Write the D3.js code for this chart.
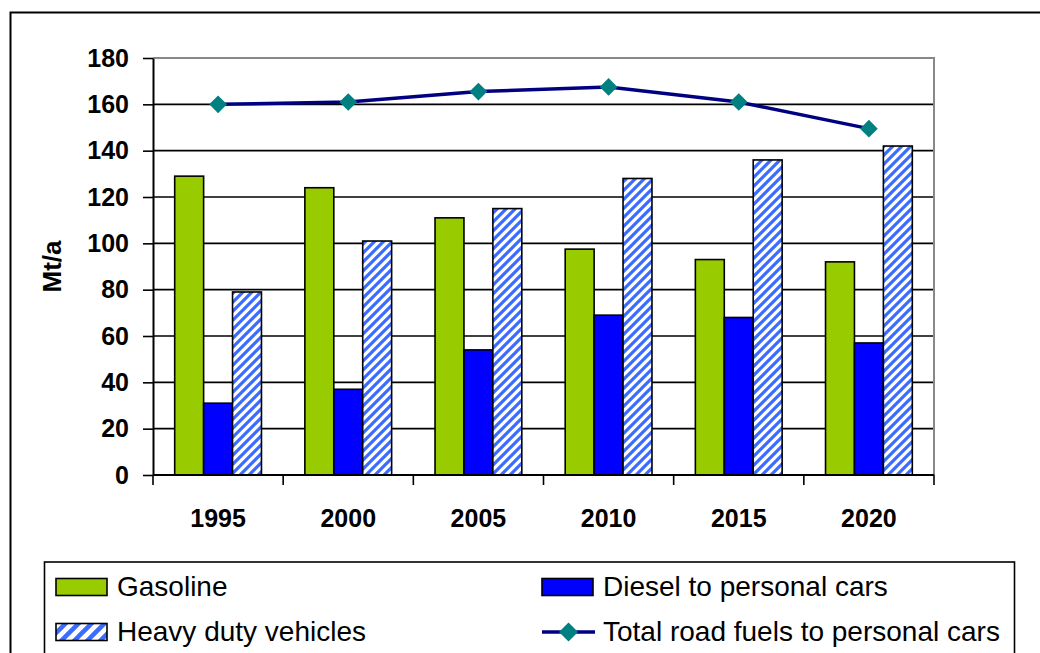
<!DOCTYPE html>
<html>
<head>
<meta charset="utf-8">
<script src="https://cdn.jsdelivr.net/npm/d3@7"></script>
<style>
  body { margin: 0; background: #fff; }
  text { font-family: "Liberation Sans", Arial, sans-serif; }
</style>
</head>
<body>
<div id="chart"></div>
<script>
// data
var years = ["1995", "2000", "2005", "2010", "2015", "2020"];
var gasoline = [129, 124, 111, 97.5, 93, 92];
var diesel = [31, 37, 54, 69, 68, 57];
var heavyDuty = [79, 101, 115, 128, 136, 142];
var totalRoad = [160, 161, 165.5, 167.5, 161, 149.5];
var yTicks = [0, 20, 40, 60, 80, 100, 120, 140, 160, 180];
var seriesNames = ["Gasoline", "Diesel to personal cars", "Heavy duty vehicles", "Total road fuels to personal cars"];

var W = 1040, H = 653;
var margin = {top: 58, right: 106, bottom: 178, left: 153},
    width = W - margin.left - margin.right,
    height = H - margin.top - margin.bottom;

var svg = d3.select("#chart")
  .append("svg")
    .attr("width", W)
    .attr("height", H);

// hatch for heavy duty vehicles
var defs = svg.append("defs");
function makeHatch(id, s, sw) {
  var pat = defs.append("pattern")
      .attr("id", id)
      .attr("patternUnits", "userSpaceOnUse")
      .attr("width", s)
      .attr("height", s);
  pat.append("rect").attr("width", s).attr("height", s).attr("fill", "#fff");
  pat.append("path")
      .attr("d", "M-2,2 L2,-2 M0," + s + " L" + s + ",0 M" + (s - 2) + "," + (s + 2) + " L" + (s + 2) + "," + (s - 2))
      .attr("stroke", "#3b6cff")
      .attr("stroke-width", sw);
}
makeHatch("hatch", 9, 3.2);
makeHatch("hatchLeg", 13, 4.5);

// outer chart frame
svg.append("rect")
    .attr("x", 10.5).attr("y", 12.5)
    .attr("width", W + 20).attr("height", H + 20)
    .attr("fill", "none")
    .attr("stroke", "#000")
    .attr("stroke-width", 2);

var g = svg.append("g")
    .attr("transform", "translate(" + margin.left + "," + margin.top + ")");

var x = d3.scaleBand()
    .domain(years)
    .range([0, width]);

var barW = x.bandwidth() / 4.5;
var x1 = d3.scaleBand()
    .domain([0, 1, 2])
    .range([0, barW * 3]);

var y = d3.scaleLinear()
    .domain([0, 180])
    .range([height, 0]);

// gridlines
g.append("g")
  .selectAll("line")
  .data(yTicks.slice(1, -1))
  .enter().append("line")
    .attr("x1", 0).attr("x2", width)
    .attr("y1", function(d) { return y(d); })
    .attr("y2", function(d) { return y(d); })
    .attr("stroke", "#000")
    .attr("stroke-width", 1.6);

// plot area border (grey)
g.append("path")
    .attr("d", "M0," + y(180) + "H" + width + "V" + height)
    .attr("fill", "none")
    .attr("stroke", "#888")
    .attr("stroke-width", 2);

// bars
var seriesVals = [gasoline, diesel, heavyDuty];
var fills = ["#99cc00", "#0000ff", "url(#hatch)"];
var legFills = ["#99cc00", "#0000ff", "url(#hatchLeg)"];
seriesVals.forEach(function(vals, si) {
  g.append("g")
    .selectAll("rect")
    .data(vals)
    .enter().append("rect")
      .attr("x", function(d, i) { return x(years[i]) + (x.bandwidth() - barW * 3) / 2 + x1(si); })
      .attr("y", function(d) { return y(d); })
      .attr("width", barW)
      .attr("height", function(d) { return height - y(d); })
      .attr("fill", fills[si])
      .attr("stroke", "#000")
      .attr("stroke-width", 1.6);
});

// axes
var yAxis = g.append("g")
    .call(d3.axisLeft(y).tickValues(yTicks).tickSize(10).tickPadding(14).tickSizeOuter(0));
yAxis.select(".domain").attr("stroke", "#000").attr("stroke-width", 2);
yAxis.selectAll(".tick line").attr("stroke", "#000").attr("stroke-width", 1.6);
yAxis.selectAll("text")
    .style("font-family", "Liberation Sans, Arial, sans-serif")
    .style("font-size", "25px")
    .style("font-weight", "bold")
    .attr("fill", "#000");

var xAxisG = g.append("g")
    .attr("transform", "translate(0," + height + ")");
xAxisG.append("line")
    .attr("x1", 0).attr("x2", width)
    .attr("stroke", "#000").attr("stroke-width", 2);
xAxisG.selectAll(".sep")
  .data(d3.range(years.length + 1))
  .enter().append("line")
    .attr("class", "sep")
    .attr("x1", function(i) { return i * x.step(); })
    .attr("x2", function(i) { return i * x.step(); })
    .attr("y1", 0).attr("y2", 10)
    .attr("stroke", "#000").attr("stroke-width", 1.6);
xAxisG.selectAll(".lab")
  .data(years)
  .enter().append("text")
    .attr("class", "lab")
    .attr("x", function(d) { return x(d) + x.bandwidth() / 2; })
    .attr("y", 52)
    .attr("text-anchor", "middle")
    .style("font-size", "25px")
    .style("font-weight", "bold")
    .text(function(d) { return d; });

// y title
g.append("text")
    .attr("transform", "translate(" + (-92) + "," + (height / 2) + ") rotate(-90)")
    .attr("text-anchor", "middle")
    .style("font-size", "26px")
    .style("font-weight", "bold")
    .text("Mt/a");

// total line
var line = d3.line()
    .x(function(d, i) { return x(years[i]) + x.bandwidth() / 2; })
    .y(function(d) { return y(d); });
g.append("path")
    .datum(totalRoad)
    .attr("d", line)
    .attr("fill", "none")
    .attr("stroke", "#000080")
    .attr("stroke-width", 3.5);

var diamond = d3.symbol().type(d3.symbolDiamond2).size(200);
g.append("g")
  .selectAll("path")
  .data(totalRoad)
  .enter().append("path")
    .attr("d", diamond)
    .attr("transform", function(d, i) {
      return "translate(" + (x(years[i]) + x.bandwidth() / 2) + "," + y(d) + ")";
    })
    .attr("fill", "#008080");

// legend
var leg = svg.append("g");
leg.append("rect")
    .attr("x", 44.5).attr("y", 562)
    .attr("width", 970).attr("height", 120)
    .attr("fill", "#fff")
    .attr("stroke", "#000")
    .attr("stroke-width", 1.6);

var legPos = [[56, 587], [542, 587], [56, 632], [542, 632]];
seriesNames.forEach(function(name, i) {
  var p = legPos[i];
  if (i < 3) {
    leg.append("rect")
        .attr("x", p[0]).attr("y", p[1] - 8.5)
        .attr("width", 51).attr("height", 17)
        .attr("fill", legFills[i])
        .attr("stroke", "#000")
        .attr("stroke-width", 1.6);
  } else {
    leg.append("line")
        .attr("x1", p[0]).attr("x2", p[0] + 53)
        .attr("y1", p[1]).attr("y2", p[1])
        .attr("stroke", "#000080").attr("stroke-width", 3.5);
    leg.append("path")
        .attr("d", d3.symbol().type(d3.symbolDiamond2).size(230))
        .attr("transform", "translate(" + (p[0] + 26.5) + "," + p[1] + ")")
        .attr("fill", "#008080");
  }
  leg.append("text")
      .attr("x", p[0] + 61)
      .attr("y", p[1] + 9)
      .style("font-size", "28px")
      .text(name);
});
</script>
</body>
</html>
